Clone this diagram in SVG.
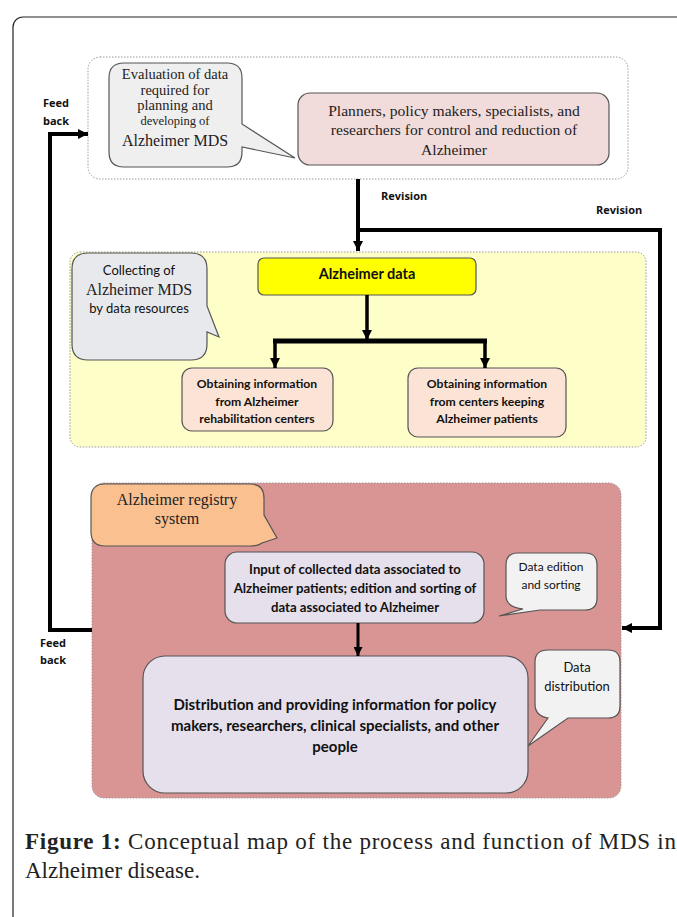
<svg xmlns="http://www.w3.org/2000/svg" width="677" height="917" viewBox="0 0 677 917">
<defs>
<marker id="ah" viewBox="0 0 10 10" refX="10" refY="5" markerWidth="10" markerHeight="11" markerUnits="userSpaceOnUse" orient="auto">
<path d="M0,0 L10,5 L0,10 Z" fill="#000"/>
</marker>
<marker id="ahs" viewBox="0 0 10 10" refX="10" refY="5" markerWidth="9" markerHeight="9" markerUnits="userSpaceOnUse" orient="auto">
<path d="M0,0 L10,5 L0,10 Z" fill="#000"/>
</marker>
<style>
.serif{font-family:"Liberation Serif","Times New Roman",serif;fill:#222;text-anchor:middle}
.sans{font-family:Lato,"Open Sans","Liberation Sans",sans-serif;fill:#111;text-anchor:middle}
.b{font-weight:bold}
.lbl{font-family:"Open Sans","Liberation Sans",sans-serif;font-weight:bold;font-size:11px;fill:#111}
.box{stroke:#555;stroke-width:1.2}
.region{stroke:#9a9a9a;stroke-width:1;stroke-dasharray:1.5 1.5}
.conn{fill:none;stroke:#000;stroke-linejoin:miter}
</style>
</defs>
<rect width="677" height="917" fill="#fff"/>
<rect x="13" y="17" width="720" height="960" rx="10" fill="none" stroke="#222" stroke-width="1.2"/>

<g id="top-region">
<rect class="region" x="88" y="57" width="540" height="122" rx="12" fill="#fff"/>
</g>
<g id="evaluation-bubble">
<path class="box" fill="#efefef" d="M124 63 H227 Q242 63 242 78 V124 L295 158 L242 147 V152 Q242 167 227 167 H124 Q109 167 109 152 V78 Q109 63 124 63 Z"/>
<text class="serif" font-size="14.5" x="175" y="79">Evaluation of data</text>
<text class="serif" font-size="14.5" x="175" y="95">required for</text>
<text class="serif" font-size="14.5" x="175" y="110">planning and</text>
<text class="serif" font-size="12.5" x="175" y="125">developing of</text>
<text class="serif" font-size="16" x="175" y="146">Alzheimer MDS</text>
</g>
<g id="planners">
<rect class="box" x="298" y="93" width="311" height="72" rx="12" fill="#f2dcdb"/>
<text class="serif" font-size="15.6" x="454" y="116">Planners, policy makers, specialists, and</text>
<text class="serif" font-size="15.6" x="454" y="135">researchers for control and reduction of</text>
<text class="serif" font-size="15.6" x="454" y="155">Alzheimer</text>
</g>

<g id="mid-region">
<rect class="region" x="70" y="252" width="576" height="195" rx="10" fill="#fefec8"/>
</g>
<g id="collecting-bubble">
<path class="box" fill="#e8e9ec" d="M88 253 H191 Q207 253 207 269 V306 L219 337 L207 332 V344 Q207 360 191 360 H88 Q72 360 72 344 V269 Q72 253 88 253 Z"/>
<text class="sans" font-size="13" x="139" y="275">Collecting of</text>
<text class="serif" font-size="16" x="139" y="295">Alzheimer MDS</text>
<text class="sans" font-size="13" x="139" y="313">by data resources</text>
</g>
<g id="alzheimer-data">
<rect class="box" x="258" y="258" width="218" height="37" rx="6" fill="#ffff00"/>
<text class="sans b" font-size="14.5" x="367" y="279">Alzheimer data</text>
</g>
<g id="rehab-centers">
<rect class="box" x="182" y="368" width="151" height="63" rx="10" fill="#fbe4d5"/>
<text class="sans b" font-size="12.2" x="257" y="388">Obtaining information</text>
<text class="sans b" font-size="12.2" x="257" y="406">from Alzheimer</text>
<text class="sans b" font-size="12.2" x="257" y="423">rehabilitation centers</text>
</g>
<g id="keeping-centers">
<rect class="box" x="408" y="368" width="158" height="69" rx="10" fill="#fbe4d5"/>
<text class="sans b" font-size="12.2" x="487" y="388">Obtaining information</text>
<text class="sans b" font-size="12.2" x="487" y="406">from centers keeping</text>
<text class="sans b" font-size="12.2" x="487" y="423">Alzheimer patients</text>
</g>

<g id="bottom-region">
<rect class="region" x="92" y="483" width="529" height="315" rx="12" fill="#d99594"/>
</g>
<g id="registry-bubble">
<path class="box" fill="#fac090" d="M105 484 H250 Q264 484 264 498 V515 L277 538 L262 543 Q258 546 250 546 H105 Q91 546 91 532 V498 Q91 484 105 484 Z"/>
<text class="serif" font-size="16" x="177" y="505">Alzheimer registry</text>
<text class="serif" font-size="16" x="177" y="524">system</text>
</g>
<g id="input-box">
<rect class="box" x="225" y="552" width="259" height="71" rx="12" fill="#e5e0ec"/>
<text class="sans b" font-size="13.2" x="355" y="574">Input of collected data associated to</text>
<text class="sans b" font-size="13.2" x="355" y="593">Alzheimer patients; edition and sorting of</text>
<text class="sans b" font-size="13.2" x="355" y="612">data associated to Alzheimer</text>
</g>
<g id="edition-bubble">
<path class="box" fill="#f2f2f2" d="M518 553 H585 Q597 553 597 565 V598 Q597 610 585 610 H540 L499 616 L523 609 Q506 607 506 596 V565 Q506 553 518 553 Z"/>
<text class="sans" font-size="12" x="551" y="571">Data edition</text>
<text class="sans" font-size="12" x="551" y="589">and sorting</text>
</g>
<g id="distribution-box">
<rect class="box" x="143" y="656" width="385" height="137" rx="22" fill="#e5e0ec"/>
<text class="sans b" font-size="15" x="335" y="710">Distribution and providing information for policy</text>
<text class="sans b" font-size="15" x="335" y="731">makers, researchers, clinical specialists, and other</text>
<text class="sans b" font-size="15" x="335" y="752">people</text>
</g>
<g id="distribution-bubble">
<path class="box" fill="#f2f2f2" d="M548 650 H608 Q620 650 620 662 V706 Q620 718 608 718 H568 L528 746 L548 718 Q535 716 535 704 V662 Q535 650 548 650 Z"/>
<text class="sans" font-size="13" x="577" y="672">Data</text>
<text class="sans" font-size="13" x="577" y="691">distribution</text>
</g>

<g id="connectors">
<path class="conn" stroke-width="4" d="M358 179 V251" marker-end="url(#ah)"/>
<path class="conn" stroke-width="4" d="M358 230 H660 V628 H622" marker-end="url(#ah)"/>
<path class="conn" stroke-width="4" d="M92 630 H50 V134 H88" marker-end="url(#ah)"/>
<path class="conn" stroke-width="3.5" d="M367 295 V340" marker-end="url(#ah)"/>
<path class="conn" stroke-width="5" d="M273 341 H487"/>
<path class="conn" stroke-width="3.5" d="M275 341 V368" marker-end="url(#ah)"/>
<path class="conn" stroke-width="3.5" d="M485 341 V368" marker-end="url(#ah)"/>
<path class="conn" stroke-width="3" d="M358 623 V656" marker-end="url(#ahs)"/>
<text class="lbl" x="381" y="200">Revision</text>
<text class="lbl" x="596" y="214">Revision</text>
<text class="lbl" x="43" y="107">Feed</text>
<text class="lbl" x="43" y="125">back</text>
<text class="lbl" x="40" y="647">Feed</text>
<text class="lbl" x="40" y="664">back</text>
</g>

<g id="caption">
<text font-family="Liberation Serif,Times New Roman,serif" font-size="23" fill="#222" x="25" y="849" textLength="651" lengthAdjust="spacing"><tspan font-weight="bold">Figure 1:</tspan> Conceptual map of the process and function of MDS in</text>
<text font-family="Liberation Serif,Times New Roman,serif" font-size="23" fill="#222" x="25" y="878">Alzheimer disease.</text>
</g>
</svg>
